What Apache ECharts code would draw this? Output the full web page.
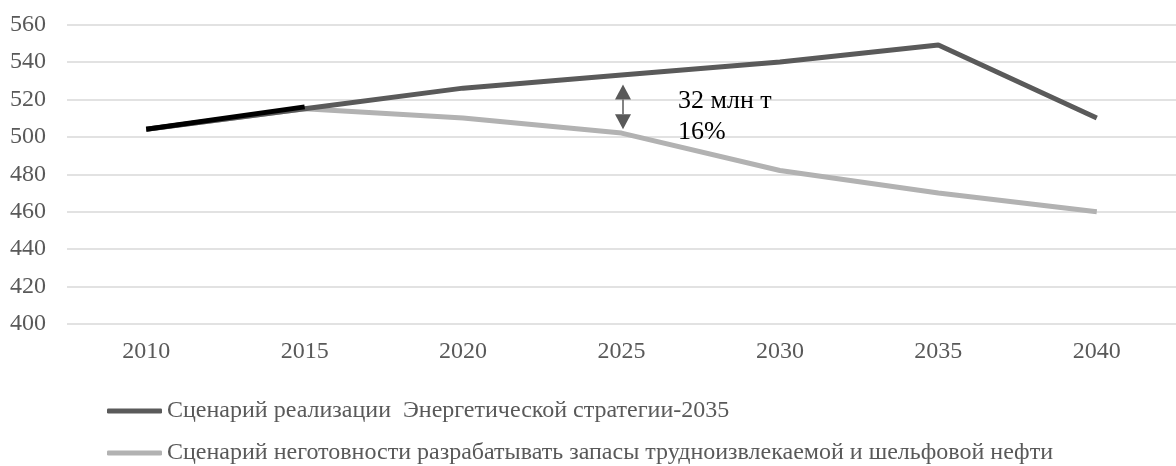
<!DOCTYPE html>
<html>
<head>
<meta charset="utf-8">
<script src="https://cdn.jsdelivr.net/npm/echarts@6/dist/echarts.min.js"></script>
<style>
  html, body { margin: 0; padding: 0; background: #fff; overflow: hidden; }
  #chart { width: 1176px; height: 466px; }
</style>
</head>
<body>
<div id="chart"></div>
<script>
// Добыча нефти по сценариям, млн т
const years = ['2010', '2015', '2020', '2025', '2030', '2035', '2040'];
const strategyName = 'Сценарий реализации  Энергетической стратегии-2035';
const strategyValues = [504, 515, 526, 533, 540, 549, 510];
const unreadyName = 'Сценарий неготовности разрабатывать запасы трудноизвлекаемой и шельфовой нефти';
const unreadyValues = [504, 515, 510, 502, 482, 470, 460];
const factValues = [504, 516, null, null, null, null, null];
const yTicks = { min: 400, max: 560, interval: 20 };

// Разрыв между сценариями в 2025 г.
const gapYear = '2025';
const gapFrom = 528;
const gapTo = 504;
const gapLabel = ['32 млн т', '16%'];

const FONT = '"Liberation Serif", "Times New Roman", serif';
const chart = echarts.init(document.getElementById('chart'));

// Одна строка легенды на каждый сценарий
function legendRow(name, topPx) {
  return {
    data: [name],
    left: 107,
    top: topPx,
    padding: 0,
    itemWidth: 55,
    itemHeight: 5,
    icon: 'roundRect',
    textStyle: { color: '#595959', fontFamily: FONT, fontSize: 24 }
  };
}

chart.setOption({
  animation: false,
  backgroundColor: '#ffffff',
  grid: { left: 67, right: -8, top: 24.5, bottom: 142 },
  xAxis: {
    type: 'category',
    data: years,
    boundaryGap: true,
    axisLine: { show: false },
    axisTick: { show: false },
    axisLabel: { color: '#595959', fontFamily: FONT, fontSize: 24, margin: 16 }
  },
  yAxis: {
    type: 'value',
    min: yTicks.min, max: yTicks.max, interval: yTicks.interval,
    axisLine: { show: false },
    axisTick: { show: false },
    splitLine: { lineStyle: { color: '#d9d9d9', width: 1.5 } },
    axisLabel: { color: '#595959', fontFamily: FONT, fontSize: 24, margin: 21 }
  },
  legend: [legendRow(strategyName, 399), legendRow(unreadyName, 441)],
  series: [
    {
      name: unreadyName, type: 'line', data: unreadyValues,
      symbol: 'none', z: 2,
      lineStyle: { color: '#b2b2b2', width: 5 }, itemStyle: { color: '#b2b2b2' }
    },
    {
      name: strategyName, type: 'line', data: strategyValues,
      symbol: 'none', z: 3,
      lineStyle: { color: '#5a5a5a', width: 5 }, itemStyle: { color: '#5a5a5a' }
    },
    {
      name: 'Факт', type: 'line', data: factValues,
      symbol: 'none', z: 4,
      lineStyle: { color: '#000000', width: 5 }, itemStyle: { color: '#000000' }
    }
  ]
});

// Стрелка разрыва и подпись
const pTop = chart.convertToPixel({ seriesIndex: 1 }, [gapYear, gapFrom]);
const pBottom = chart.convertToPixel({ seriesIndex: 1 }, [gapYear, gapTo]);
const ax = pTop[0] + 1.5;
const head = 15;
const half = 8;
chart.setOption({
  graphic: [
    { type: 'line', shape: { x1: ax, y1: pTop[1] + head, x2: ax, y2: pBottom[1] - head },
      style: { stroke: '#595959', lineWidth: 1.5 } },
    { type: 'polygon', shape: { points: [[ax, pTop[1]], [ax - half, pTop[1] + head], [ax + half, pTop[1] + head]] },
      style: { fill: '#595959' } },
    { type: 'polygon', shape: { points: [[ax, pBottom[1]], [ax - half, pBottom[1] - head], [ax + half, pBottom[1] - head]] },
      style: { fill: '#595959' } },
    { type: 'text', x: ax + 55, y: pTop[1] + 16.5,
      style: { text: gapLabel[0], fill: '#000', font: '26px ' + FONT, verticalAlign: 'middle' } },
    { type: 'text', x: ax + 55, y: pTop[1] + 47.5,
      style: { text: gapLabel[1], fill: '#000', font: '26px ' + FONT, verticalAlign: 'middle' } }
  ]
});
</script>
</body>
</html>
